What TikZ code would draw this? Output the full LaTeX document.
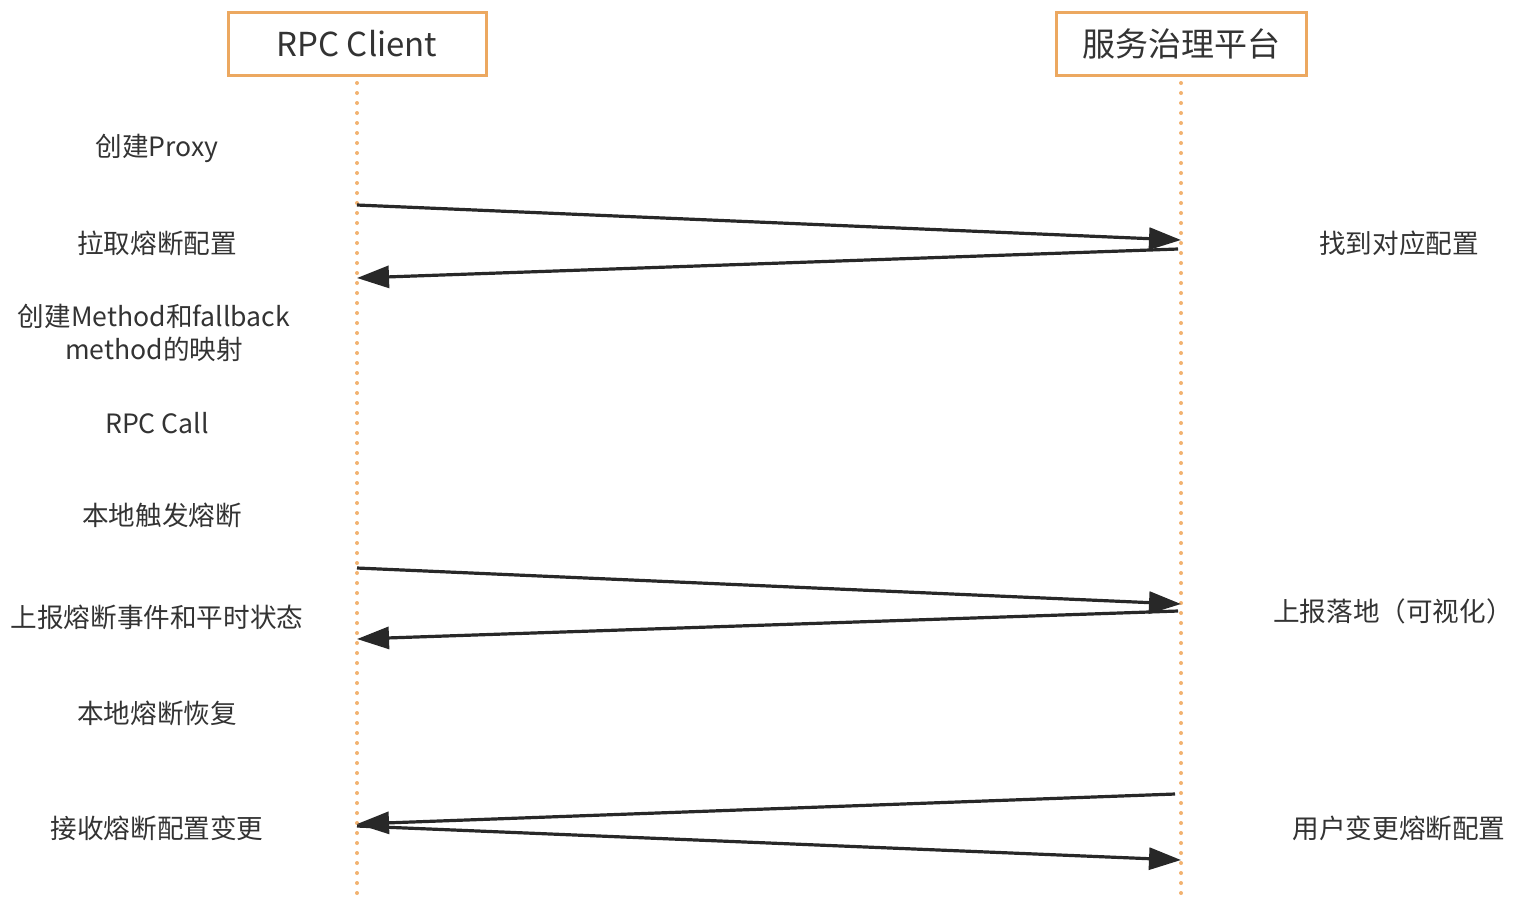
\documentclass[tikz,border=0pt]{standalone}
\usepackage{fontspec}
\setmainfont{Noto Sans CJK SC}
\usetikzlibrary{arrows.meta}
\definecolor{boxorange}{RGB}{236, 168, 96}
\definecolor{dotorange}{RGB}{242, 178, 112}
\definecolor{arrowgray}{RGB}{40, 40, 40}
\definecolor{textgray}{RGB}{51, 51, 51}

\begin{document}
\begin{tikzpicture}[x=0.5pt, y=-0.5pt, >={Triangle[length=16pt, width=11pt]},
    font=\fontsize{13.3}{16.5}\selectfont,
    actor/.style={
        draw=boxorange, line width=1.5pt, fill=white,
        minimum width=129pt, minimum height=31.5pt, inner sep=0pt,
        font=\fontsize{16.5}{20}\selectfont, text=textgray
    },
    lifeline/.style={draw=dotorange, line width=2pt, line cap=round,
                     dash pattern=on 0pt off 5pt},
    msg/.style={->, line width=1.6pt, draw=arrowgray},
    note/.style={text=textgray, align=center, inner sep=1pt},
]
\useasboundingbox (0,0) rectangle (1518,918);

% --- Coordenadas ---
\def\xc{357}
\def\xs{1181}
\def\xl{157}
\def\xr{1399}
\def\ybot{895}

% --- Participantes ---
\node[actor] (client) at (\xc, 44) {RPC Client};
\node[actor, minimum width=125pt] (server) at (\xs, 44) {服务治理平台};

\coordinate (client_end) at (\xc, \ybot);
\coordinate (server_end) at (\xs, \ybot);
\draw[lifeline] (client.south) ++(0,6) -- (client_end);
\draw[lifeline] (server.south) ++(0,6) -- (server_end);

% --- Puntos de los mensajes ---
\coordinate (c1) at (\xc, 205);  \coordinate (s1) at (\xs, 240);
\coordinate (s2) at (1178, 249); \coordinate (c2) at (\xc, 278);
\coordinate (c3) at (\xc, 568);  \coordinate (s3) at (\xs, 604);
\coordinate (s4) at (1178, 611); \coordinate (c4) at (\xc, 639);
\coordinate (s5) at (1175, 794); \coordinate (c5) at (\xc, 824);
\coordinate (c6) at (\xc, 826);  \coordinate (s6) at (\xs, 860);

% --- Mensajes ---
\draw[msg] (c1) -- (s1);
\draw[msg] (s2) -- (c2);
\draw[msg] (c3) -- (s3);
\draw[msg] (s4) -- (c4);
\draw[msg] (s5) -- (c5);
\draw[msg] (c6) -- (s6);

% --- Notas del cliente ---
\node[note] (proxy)    at (\xl, 148) {创建Proxy};
\node[note] (pull)     at (\xl, 243) {拉取熔断配置};
\node[note] (mapping)  at (154, 333) {创建Method和fallback\\method的映射};
\node[note] (call)     at (\xl, 423) {RPC Call};
\node[note] (trigger)  at (162, 515) {本地触发熔断};
\node[note] (report)   at (\xl, 617) {上报熔断事件和平时状态};
\node[note] (recover)  at (\xl, 713) {本地熔断恢复};
\node[note] (receive)  at (\xl, 828) {接收熔断配置变更};

% --- Notas de la plataforma ---
\node[note] (found)    at (\xr, 243) {找到对应配置};
\node[note] (persist)  at (1393, 611) {上报落地（可视化）};
\node[note] (change)   at (\xr, 828) {用户变更熔断配置};

\end{tikzpicture}
\end{document}
